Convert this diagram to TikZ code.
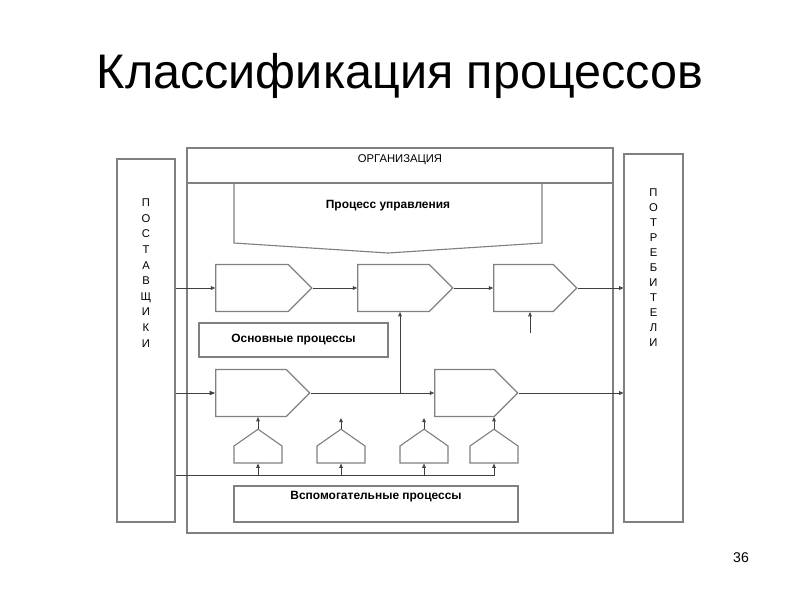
\documentclass[tikz,border=0pt]{standalone}
\usepackage{fontspec}
\setmainfont{Liberation Sans}
\usetikzlibrary{arrows.meta, shapes.symbols}

\definecolor{boxgray}{gray}{0.5}
\definecolor{linegray}{gray}{0.25}

\tikzset{
  frame/.style = {draw = boxgray, line width = 0.8pt, inner sep = 0pt},
  proc/.style = {frame, signal, signal to = east, signal pointer angle = 90,
    minimum height = 1.175cm},
  aux/.style = {frame, signal, signal to = north, signal pointer angle = 110,
    minimum width = 1.2cm, minimum height = 0.425cm},
  conn/.style = {draw = linegray, line width = 0.7pt,
    -{Triangle[open, length = 3pt, width = 2.6pt]}},
  letters/.style = {align = center, font = \fontsize{8}{11.1}\selectfont}
}

\begin{document}
\begin{tikzpicture}[x = 0.025cm, y = -0.025cm]
\useasboundingbox (0, 0) rectangle (800, 600);
\node at (400, 76) {\fontsize{34.5}{40}\selectfont Классификация процессов};
\node at (741, 558) {\fontsize{10}{12}\selectfont 36};

% outer boxes
\node (sup) at (146, 340.5) [frame, minimum width = 1.45cm, minimum height = 9.075cm] {};
\node (cons) at (653.5, 338) [frame, minimum width = 1.475cm, minimum height = 9.2cm] {};
\node at (146, 273) [letters] {П\\О\\С\\Т\\А\\В\\Щ\\И\\К\\И};
\node at (653.5, 268) [letters, font = \fontsize{8}{10.65}\selectfont] {П\\О\\Т\\Р\\Е\\Б\\И\\Т\\Е\\Л\\И};
\draw[frame] (187, 148) rectangle (613, 533);
\draw[frame] (187, 183) -- (613, 183);
\node at (400, 160) {\fontsize{8}{10}\selectfont ОРГАНИЗАЦИЯ};

% control process
\draw[frame] (234, 183) -- (234, 243) -- (388, 253) -- (542, 243) -- (542, 183);
\node (ctrl) at (388, 206) {\fontsize{8.5}{10}\selectfont\bfseries Процесс управления};

% main processes
\node (p1) at (252, 288) [proc, minimum width = 2.4cm] {};
\node (p2) at (393.5, 288) [proc, minimum width = 2.375cm] {};
\node (p3) at (523.5, 288) [proc, minimum width = 2.075cm] {};
\node (p4) at (251, 393) [proc, minimum width = 2.35cm] {};
\node (p5) at (464.5, 393) [proc, minimum width = 2.075cm] {};
\node (mainbox) at (293.5, 340) [frame, minimum width = 4.725cm, minimum height = 0.85cm]
  {\fontsize{8.5}{10}\selectfont\bfseries Основные процессы};

% support processes
\foreach \n/\x in {1/258, 2/341, 3/424, 4/494}
  \node (s\n) at (\x, 454.5) [aux] {};
\node (auxbox) at (376, 504) [frame, minimum width = 7.1cm, minimum height = 0.9cm] {};
\node at (376, 497) {\fontsize{8.5}{10}\selectfont\bfseries Вспомогательные процессы};

% flows
\draw[conn] (sup.east |- p1.west) -- (p1.west);
\draw[conn] (p1.east) -- (p2.west);
\draw[conn] (p2.east) -- (p3.west);
\draw[conn] (p3.east) -- (cons.west |- p3.east);
\coordinate (in3) at (530, 333);
\draw[conn] (in3) -- (in3 |- p3.south);
\draw[conn, -{Triangle[length = 4pt, width = 3pt]}] (sup.east |- p4.west) -- (p4.west);
\draw[conn] (p4.east) -- (p5.west);
\coordinate (jn) at (400, 393);
\draw[conn] (jn) -- (jn |- p2.south);
\draw[conn] (p5.east) -- (cons.west |- p5.east);

% support feed
\coordinate (bus) at (176, 475);
\draw[conn] (sup.east |- bus) -| (s4.south);
\foreach \n in {1, 2, 3}
  \draw[conn] (s\n.south |- bus) -- (s\n.south);
\draw[conn] (s1.north) -- (s1.north |- p4.south);
\draw[conn] (s4.north) -- (s4.north |- p5.south);
\coordinate (up2) at (341, 418);
\coordinate (up3) at (424, 418);
\draw[conn] (s2.north) -- (up2);
\draw[conn] (s3.north) -- (up3);
\end{tikzpicture}
\end{document}
